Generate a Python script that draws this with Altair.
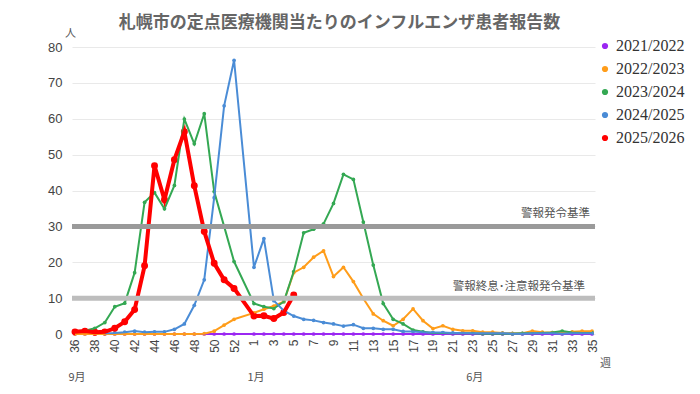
import altair as alt
import pandas as pd

# x axis categories: week 36..52, (53, unused this time), 1..35
weeks = [str(w) for w in range(36, 54)] + [str(w) for w in range(1, 36)]
shown_weeks = [str(w) for w in range(36, 53, 2)] + [str(w) for w in range(1, 36, 2)]

seasons = ["2021/2022", "2022/2023", "2023/2024", "2024/2025", "2025/2026"]
colors = ["#9b27f2", "#ff9d1a", "#34a853", "#4a8cd6", "#ff0000"]

N = None
#            36   37   38   39   40   41   42   43   44   45   46   47   48   49   50   51   52  53
s2122 = [0.0, 0.0, 0.0, 0.0, 0.0, 0.0, 0.0, 0.0, 0.0, 0.0, 0.0, 0.0, 0.0, 0.0, 0.0, 0.0, 0.0, N,
         0.0, 0.0, 0.0, 0.0, 0.0, 0.0, 0.0, 0.0, 0.0, 0.0, 0.0, 0.0, 0.0, 0.0, 0.0, 0.0, 0.0, 0.0,
         0.0, 0.0, 0.0, 0.0, 0.0, 0.0, 0.0, 0.0, 0.0, 0.0, 0.0, 0.0, 0.0, 0.0, 0.0, 0.0, 0.0]
s2223 = [0.0, 0.0, 0.0, 0.0, 0.0, 0.0, 0.0, 0.0, 0.0, 0.0, 0.0, 0.0, 0.0, 0.1, 0.8, 2.5, 4.1, N,
         5.9, 6.9, 7.8, 9.0, 17.1, 18.6, 21.4, 23.2, 16.0, 18.6, 14.6, 9.9, 5.6, 3.7, 2.3, 4.1, 7.0, 3.7,
         1.5, 2.3, 1.3, 0.9, 0.9, 0.5, 0.5, 0.3, 0.2, 0.2, 0.8, 0.5, 0.4, 0.5, 0.6, 0.8, 0.8]
s2324 = [0.5, 0.9, 1.6, 3.2, 7.6, 8.6, 17.1, 36.7, 39.4, 34.9, 41.4, 59.9, 53.0, 61.4, 39.7, 30.0, 20.2, N,
         8.5, 7.6, 7.1, 9.0, 17.4, 28.2, 29.2, 30.7, 36.4, 44.5, 43.1, 31.2, 19.2, 8.5, 4.1, 2.8, 1.1, 0.6,
         0.3, 0.3, 0.2, 0.2, 0.2, 0.1, 0.1, 0.1, 0.1, 0.2, 0.2, 0.3, 0.4, 0.8, 0.4, 0.3, 0.3]
s2425 = [N, N, N, 0.2, 0.3, 0.5, 0.8, 0.5, 0.6, 0.6, 1.3, 2.8, 8.0, 15.1, 38.0, 63.6, 76.3, N,
         18.6, 26.6, 9.3, 6.5, 5.0, 4.1, 3.8, 3.2, 2.8, 2.2, 2.6, 1.6, 1.6, 1.3, 1.3, 0.7, 0.7, 0.5,
         0.4, 0.4, 0.3, 0.3, 0.2, 0.2, 0.2, 0.2, 0.1, 0.1, 0.2, 0.2, 0.2, 0.1, 0.2, 0.2, 0.2]
s2526 = [0.6, 0.8, 0.5, 0.6, 1.6, 3.4, 6.8, 19.0, 46.9, 37.4, 48.6, 56.4, 41.3, 28.6, 19.7, 15.1, 12.7, N,
         5.0, 5.1, 4.3, 6.0, 10.9, N, N, N, N, N, N, N, N, N, N, N, N, N,
         N, N, N, N, N, N, N, N, N, N, N, N, N, N, N, N, N]

thresholds = [30, 10]
threshold_labels = ["警報発令基準", "警報終息･注意報発令基準"]

months = ["9月", "1月", "6月"]
month_weeks = ["36", "1", "23"]

y_ticks = [0, 10, 20, 30, 40, 50, 60, 70, 80]

title_text = "札幌市の定点医療機関当たりのインフルエンザ患者報告数"

rows = []
for season, vals in zip(seasons, [s2122, s2223, s2324, s2425, s2526]):
    for i, (w, v) in enumerate(zip(weeks, vals)):
        if v is not None:
            rows.append({"season": season, "idx": i, "week": w, "value": v})
df = pd.DataFrame(rows)

thr_df = pd.DataFrame({"value": thresholds, "label": threshold_labels})
mon_df = pd.DataFrame({"label": months, "idx": [weeks.index(w) for w in month_weeks]})

label_array = "[" + ",".join("'" + w + "'" for w in weeks) + "]"
tick_vals = [weeks.index(w) for w in shown_weeks]

JP = "Noto Sans CJK JP"
LAT = "Liberation Sans"

x_enc = alt.X(
    "idx:Q",
    scale=alt.Scale(domain=[-0.3, len(weeks) - 1 + 0.3], nice=False, zero=False),
    axis=alt.Axis(
        values=tick_vals,
        labelExpr=label_array + "[datum.value]",
        labelAngle=270,
        labelAlign="right",
        labelBaseline="middle",
        labelFont=LAT,
        labelFontSize=12,
        labelColor="#444444",
        labelPadding=5,
        labelOverlap=False,
        labelFlush=False,
        ticks=False,
        domain=False,
        grid=False,
        title="週",
        titleFont=JP,
        titleFontSize=11,
        titleFontWeight="normal",
        titleColor="#555555",
        titleAngle=0,
        titleX=533,
        titleY=29,
        titleAlign="center",
        titleBaseline="middle",
    ),
)

y_enc = alt.Y(
    "value:Q",
    scale=alt.Scale(domain=[0, 80], nice=False),
    axis=alt.Axis(
        values=y_ticks,
        labelFont=LAT,
        labelFontSize=13,
        labelColor="#444444",
        labelPadding=10,
        labelOverlap=False,
        labelFlush=False,
        ticks=False,
        domain=False,
        gridColor="#e9e9e9",
        gridWidth=1,
        title="人",
        titleFont=JP,
        titleFontSize=11,
        titleFontWeight="normal",
        titleColor="#555555",
        titleAngle=0,
        titleX=-2,
        titleY=-14,
        titleAlign="center",
        titleBaseline="middle",
    ),
)

color_enc = alt.Color(
    "season:N",
    scale=alt.Scale(domain=seasons, range=colors),
    legend=alt.Legend(
        title=None,
        orient="none",
        legendX=525,
        legendY=-9,
        symbolType="circle",
        symbolSize=14,
        symbolStrokeWidth=2.5,
        labelFont="Liberation Serif",
        labelFontSize=16,
        labelColor="#333333",
        rowPadding=7,
        labelOffset=3,
    ),
)

is_red = "datum.season == '2025/2026'"

points = alt.Chart(df).mark_circle(opacity=1).encode(
    x=x_enc,
    y=y_enc,
    color=color_enc,
    size=alt.condition(is_red, alt.value(48), alt.value(14)),
)

lines = alt.Chart(df).mark_line().encode(
    x=x_enc,
    y=y_enc,
    color=color_enc,
    order="idx:Q",
    strokeWidth=alt.condition(is_red, alt.value(4), alt.value(2)),
)

rule30 = alt.Chart(thr_df).transform_filter("datum.value == 30").mark_rule(
    strokeWidth=5, color="#9a9a9a"
).encode(y=y_enc)
rule10 = alt.Chart(thr_df).transform_filter("datum.value == 10").mark_rule(
    strokeWidth=5, color="#bdbdbd"
).encode(y=y_enc)

txt30 = alt.Chart(thr_df).transform_filter("datum.value == 30").mark_text(
    align="right", baseline="middle", dy=-12, font=JP, fontSize=11.5, color="#555555"
).encode(y=y_enc, text="label:N", x=alt.value(518))
txt10 = alt.Chart(thr_df).transform_filter("datum.value == 10").mark_text(
    align="right", baseline="middle", dy=-11, font=JP, fontSize=11.5, color="#555555"
).encode(y=y_enc, text="label:N", x=alt.value(513))

month_txt = alt.Chart(mon_df).mark_text(
    align="center", baseline="middle", font=JP, fontSize=11, color="#555555", dx=2
).encode(x=x_enc, y=alt.value(331), text="label:N")

chart = alt.layer(
    points, lines, rule30, rule10, txt30, txt10, month_txt
).properties(
    width=523,
    height=287,
    padding={"left": 64, "top": 39, "right": 97, "bottom": 52},
    autosize=alt.AutoSizeParams(type="none"),
    title=alt.TitleParams(
        title_text,
        font=JP,
        fontSize=17,
        fontWeight="bold",
        color="#666666",
        anchor="middle",
        offset=-5,
        dx=6,
    ),
).configure_view(stroke=None)

chart.save("out.html", embed_options={"renderer": "svg", "actions": False})
